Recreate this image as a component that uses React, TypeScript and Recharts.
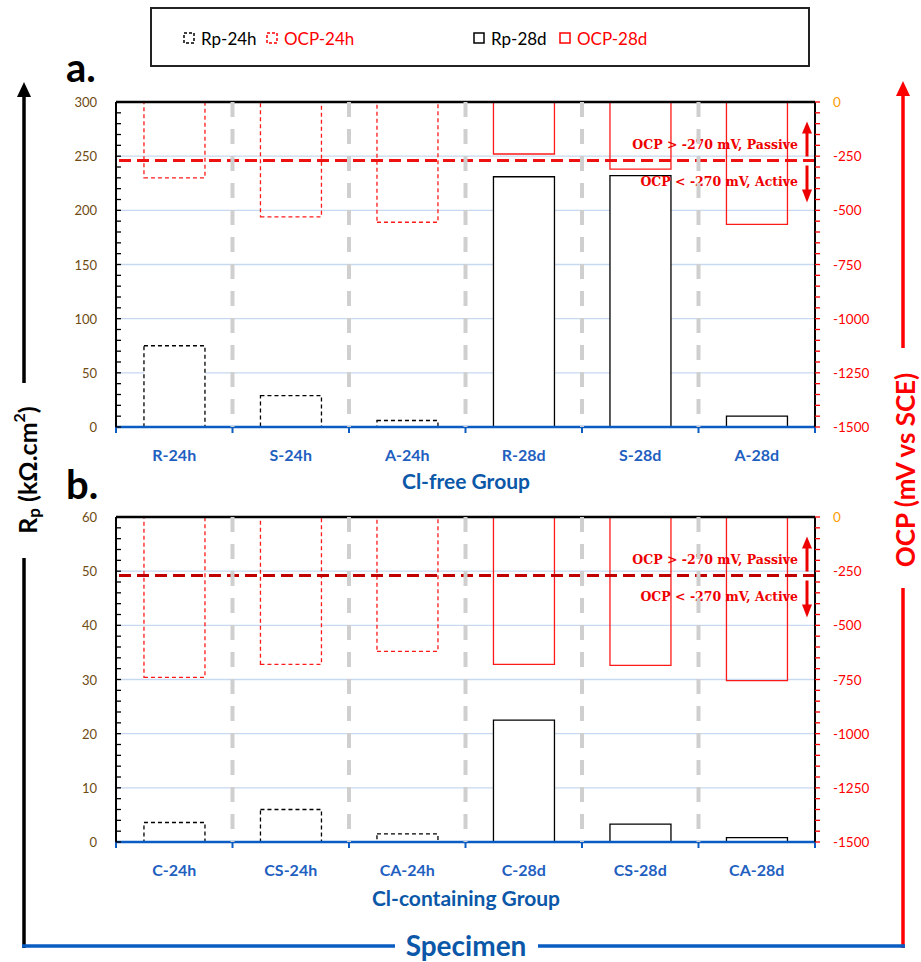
import React from "react";
import { BarChart, Bar, XAxis, YAxis, CartesianGrid, ReferenceLine } from "recharts";

// a. Cl-free group
const freeSpecimens = ["R-24h", "S-24h", "A-24h", "R-28d", "S-28d", "A-28d"];
const freeRp24h = [75, 29, 6, null, null, null];
const freeRp28d = [null, null, null, 231, 232, 10];
const freeOcp24h = [-350, -530, -555, null, null, null];
const freeOcp28d = [null, null, null, -240, -310, -565];
const freeRpTicks = [0, 50, 100, 150, 200, 250, 300];

// b. Cl-containing group
const clSpecimens = ["C-24h", "CS-24h", "CA-24h", "C-28d", "CS-28d", "CA-28d"];
const clRp24h = [3.6, 6.0, 1.5, null, null, null];
const clRp28d = [null, null, null, 22.5, 3.3, 0.8];
const clOcp24h = [-740, -680, -620, null, null, null];
const clOcp28d = [null, null, null, -680, -685, -755];
const clRpTicks = [0, 10, 20, 30, 40, 50, 60];

const ocpTicks = [-1500, -1250, -1000, -750, -500, -250, 0];
const passiveLimit = -270;

const BLUE = "#0a5cc2";
const RED = "#ff1a1a";
const PLOT_LEFT = 116;
const PLOT_RIGHT = 815;
const PLOT_H = 325;
const BAND = (PLOT_RIGHT - PLOT_LEFT) / 6;

// 5 minor steps per major step, like Excel's default
const withMinor = (major: number[]) => {
  const out: number[] = [];
  for (let i = 0; i < major.length - 1; i++) {
    const step = (major[i + 1] - major[i]) / 5;
    for (let k = 0; k < 5; k++) out.push(major[i] + k * step);
  }
  out.push(major[major.length - 1]);
  return out;
};

const SpecimenTick = (props: any) => {
  const { x, y, payload, index, count } = props;
  const half = BAND / 2;
  return (
    <g>
      <text x={x} y={y + 27} textAnchor="middle" dominantBaseline="central" fill="#1f5fbf"
        fontFamily="Lato" fontWeight="bold" fontSize={16}>{payload.value}</text>
      <line x1={x - half} x2={x - half} y1={y} y2={y + 6} stroke={BLUE} strokeWidth={2} />
      {index === count - 1 && <line x1={x + half} x2={x + half} y1={y} y2={y + 6} stroke={BLUE} strokeWidth={2} />}
      {index < count - 1 && (
        <line x1={x + half} x2={x + half} y1={y - PLOT_H} y2={y} stroke="#cfcfcf" strokeWidth={4} strokeDasharray="15 12" />
      )}
    </g>
  );
};

const RpTick = (props: any) => {
  const { x, y, payload, majors } = props;
  const isMajor = majors.includes(payload.value);
  return (
    <g>
      <line x1={x} x2={x + 5} y1={y} y2={y} stroke="#000" strokeWidth={1.3} />
      {isMajor && (
        <text x={x - 19} y={y} textAnchor="end" dominantBaseline="central" fill="#6e4b12"
          fontFamily="Lato" fontSize={13}>{payload.value}</text>
      )}
    </g>
  );
};

const OcpTick = (props: any) => {
  const { x, y, payload } = props;
  const isMajor = ocpTicks.includes(payload.value);
  return (
    <g>
      <line x1={x} x2={x + 5} y1={y} y2={y} stroke="#ff0000" strokeWidth={1.3} />
      {isMajor && (
        <text x={x + 18} y={y} textAnchor="start" dominantBaseline="central"
          fill={payload.value === 0 ? "#ff9a00" : "#ff0000"} fontFamily="Lato" fontSize={13.5}>{payload.value}</text>
      )}
    </g>
  );
};

const ThresholdNote = (props: any) => {
  const { viewBox } = props;
  const right = viewBox.x + viewBox.width;
  const y = viewBox.y;
  const ax = right - 8;
  const font = { fill: "#ee0000", fontFamily: "DejaVu Serif", fontWeight: "bold", fontSize: 12.5 } as const;
  return (
    <g>
      <text x={right - 17} y={y - 16} textAnchor="end" dominantBaseline="central" {...font}>
        OCP &gt; {passiveLimit} mV, Passive
      </text>
      <text x={right - 17} y={y + 21} textAnchor="end" dominantBaseline="central" {...font}>
        OCP &lt; {passiveLimit} mV, Active
      </text>
      <line x1={ax} x2={ax} y1={y - 4} y2={y - 28} stroke="#ee0000" strokeWidth={3} />
      <polygon points={`${ax - 5},${y - 27} ${ax + 5},${y - 27} ${ax},${y - 39}`} fill="#ee0000" />
      <line x1={ax} x2={ax} y1={y + 5} y2={y + 30} stroke="#ee0000" strokeWidth={3} />
      <polygon points={`${ax - 5},${y + 29} ${ax + 5},${y + 29} ${ax},${y + 42}`} fill="#ee0000" />
    </g>
  );
};

type PanelProps = {
  top: number;
  specimens: string[];
  rp24: (number | null)[];
  rp28: (number | null)[];
  ocp24: (number | null)[];
  ocp28: (number | null)[];
  rpTicks: number[];
  limitColor: string;
};

const Panel = ({ top, specimens, rp24, rp28, ocp24, ocp28, rpTicks, limitColor }: PanelProps) => {
  const data = specimens.map((name, i) => ({
    name, rp24: rp24[i], rp28: rp28[i], ocp24: ocp24[i], ocp28: ocp28[i],
  }));
  const rpMax = rpTicks[rpTicks.length - 1];
  return (
    <div style={{ position: "absolute", left: 0, top: top - 12 }}>
      <BarChart width={921} height={12 + PLOT_H + 44} data={data} barCategoryGap="24%"
        margin={{ top: 12, right: 46, bottom: 4, left: 76 }}>
        <CartesianGrid xAxisId="cat" yAxisId="rp" vertical={false} horizontalValues={rpTicks} stroke="#c6d9f0" strokeWidth={1.3} />
        <XAxis xAxisId="cat" dataKey="name" height={40} interval={0} tickSize={0} tickMargin={0} tickLine={false}
          axisLine={{ stroke: BLUE, strokeWidth: 2.5 }} tick={<SpecimenTick count={specimens.length} />} />
        <XAxis xAxisId="r28" dataKey="name" hide />
        <XAxis xAxisId="o24" dataKey="name" hide />
        <XAxis xAxisId="o28" dataKey="name" hide />
        <YAxis yAxisId="rp" width={40} domain={[0, rpMax]} ticks={withMinor(rpTicks)} interval={0}
          tickSize={0} tickMargin={0} tickLine={false} axisLine={{ stroke: "#000", strokeWidth: 2 }}
          tick={<RpTick majors={rpTicks} />} />
        <YAxis yAxisId="ocp" orientation="right" width={60} domain={[ocpTicks[0], 0]} ticks={withMinor(ocpTicks)} interval={0}
          tickSize={0} tickMargin={0} tickLine={false} axisLine={{ stroke: "#000", strokeWidth: 2 }}
          tick={<OcpTick />} />
        <Bar xAxisId="cat" yAxisId="rp" dataKey="rp24" fill="#fff" stroke="#000" strokeWidth={1.3} strokeDasharray="4 3" isAnimationActive={false} />
        <Bar xAxisId="r28" yAxisId="rp" dataKey="rp28" fill="#fff" stroke="#000" strokeWidth={1.3} isAnimationActive={false} />
        <Bar xAxisId="o24" yAxisId="ocp" dataKey="ocp24" fill="#fff" fillOpacity={0} stroke={RED} strokeWidth={1.3} strokeDasharray="4 3" isAnimationActive={false} />
        <Bar xAxisId="o28" yAxisId="ocp" dataKey="ocp28" fill="#fff" fillOpacity={0} stroke={RED} strokeWidth={1.3} isAnimationActive={false} />
        <ReferenceLine xAxisId="cat" yAxisId="rp" y={rpMax} stroke="#000" strokeWidth={2.5} />
        <ReferenceLine xAxisId="o24" yAxisId="ocp" y={passiveLimit} stroke={limitColor} strokeWidth={3}
          strokeDasharray="12 6" label={<ThresholdNote />} />
      </BarChart>
    </div>
  );
};

const LegendSwatch = ({ color, dashed }: { color: string; dashed: boolean }) => (
  <svg width={12} height={12} style={{ display: "block" }}>
    <rect x={1} y={1} width={10} height={10} fill="none" stroke={color} strokeWidth={1.5}
      strokeDasharray={dashed ? "3 2" : undefined} />
  </svg>
);

const legendItems = [
  { label: "Rp-24h", color: "#000", dashed: true, x: 183 },
  { label: "OCP-24h", color: "#ff0000", dashed: true, x: 266 },
  { label: "Rp-28d", color: "#000", dashed: false, x: 473 },
  { label: "OCP-28d", color: "#ff0000", dashed: false, x: 559 },
];

const App = () => (
  <div style={{ position: "absolute", left: 0, top: 0, width: 921, height: 962, background: "#fff", fontFamily: "Lato" }}>
    <div style={{ position: "absolute", left: 150, top: 7, width: 656, height: 56, border: "2px solid #222" }} />
    {legendItems.map((it) => (
      <div key={it.label} style={{ position: "absolute", left: it.x, top: 26, height: 24, display: "flex", alignItems: "center", gap: 6 }}>
        <LegendSwatch color={it.color} dashed={it.dashed} />
        <span style={{ fontSize: 17, color: it.color }}>{it.label}</span>
      </div>
    ))}

    <svg width={921} height={962} style={{ position: "absolute", left: 0, top: 0 }}>
      <text x={66} y={82} fontFamily="Lato" fontWeight="bold" fontSize={40} fill="#000">a.</text>
      <text x={66} y={499} fontFamily="Lato" fontWeight="bold" fontSize={40} fill="#000">b.</text>
      <text x={466} y={480} textAnchor="middle" dominantBaseline="central" fontFamily="Lato" fontWeight="bold" fontSize={21} fill="#0b57a8">Cl-free Group</text>
      <text x={466} y={897} textAnchor="middle" dominantBaseline="central" fontFamily="Lato" fontWeight="bold" fontSize={21} fill="#0b57a8">Cl-containing Group</text>

      <line x1={24} x2={24} y1={95} y2={383} stroke="#000" strokeWidth={3.5} />
      <line x1={24} x2={24} y1={558} y2={948} stroke="#000" strokeWidth={3.5} />
      <polygon points="24,82 17,97 31,97" fill="#000" />
      <text transform="translate(27,470) rotate(-90)" textAnchor="middle" dominantBaseline="central"
        fontFamily="Lato" fontWeight="bold" fontSize={25} fill="#000">
        R<tspan fontSize={17} dy={6}>p</tspan><tspan dy={-6}> (kΩ.cm</tspan><tspan fontSize={16} dy={-9}>2</tspan><tspan dy={9}>)</tspan>
      </text>

      <line x1={903} x2={903} y1={95} y2={348} stroke="#ff0000" strokeWidth={3.5} />
      <line x1={903} x2={903} y1={588} y2={948} stroke="#ff0000" strokeWidth={3.5} />
      <polygon points="903,81 896,96 910,96" fill="#ff0000" />
      <text transform="translate(905,470) rotate(-90)" textAnchor="middle" dominantBaseline="central"
        fontFamily="Lato" fontWeight="bold" fontSize={26} fill="#ff0000">OCP (mV vs SCE)</text>

      <line x1={22} x2={395} y1={946} y2={946} stroke={BLUE} strokeWidth={3.5} />
      <line x1={538} x2={905} y1={946} y2={946} stroke={BLUE} strokeWidth={3.5} />
      <text x={466} y={945} textAnchor="middle" dominantBaseline="central" fontFamily="Lato" fontWeight="bold" fontSize={28} fill="#0b57a8">Specimen</text>
    </svg>

    <Panel top={102} specimens={freeSpecimens} rp24={freeRp24h} rp28={freeRp28d} ocp24={freeOcp24h}
      ocp28={freeOcp28d} rpTicks={freeRpTicks} limitColor="#ee1111" />
    <Panel top={517} specimens={clSpecimens} rp24={clRp24h} rp28={clRp28d} ocp24={clOcp24h}
      ocp28={clOcp28d} rpTicks={clRpTicks} limitColor="#c00000" />
  </div>
);

export default App;
